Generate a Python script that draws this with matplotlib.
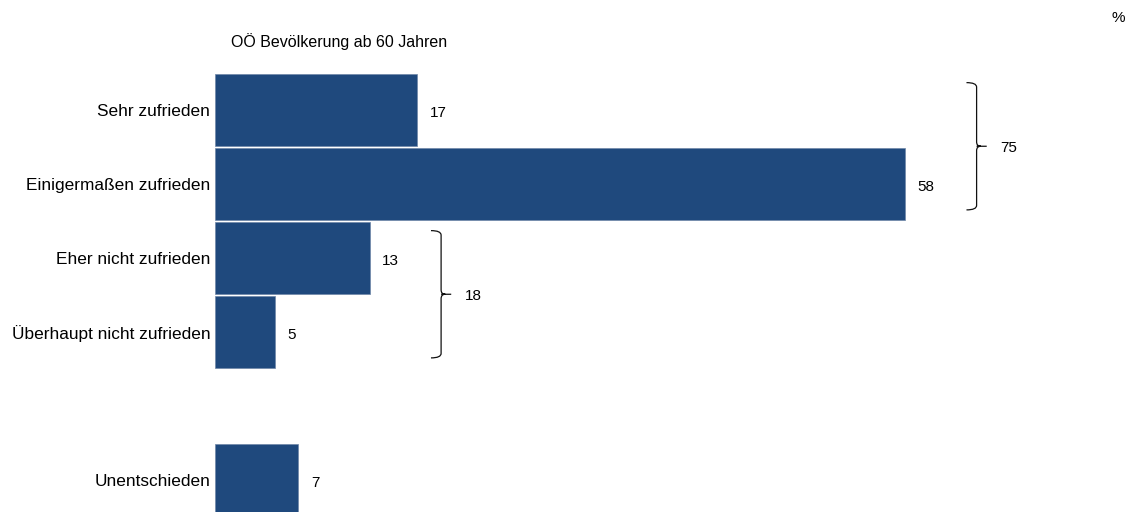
import matplotlib
matplotlib.use('Agg')
import matplotlib.pyplot as plt
from matplotlib.path import Path
from matplotlib.patches import PathPatch

plt.rcParams['font.family'] = ['Liberation Sans', 'DejaVu Sans']

# Daten
kategorien = ['Sehr zufrieden', 'Einigermaßen zufrieden', 'Eher nicht zufrieden',
              'Überhaupt nicht zufrieden', 'Unentschieden']
zeilen = [0, 1, 2, 3, 5]
werte = [17, 58, 13, 5, 7]
gruppen = [(0, 1), (2, 3)]          # Zeilen, die per Klammer zusammengefasst werden
summen = [75, 18]
untertitel = 'OÖ Bevölkerung ab 60 Jahren'

BALKEN = '#1F497D'
PX = 11.9          # Pixel pro Prozentpunkt
W, H = 1132, 512
LINKS = 215

fig = plt.figure(figsize=(W / 100, H / 100), dpi=100)
ax = fig.add_axes([LINKS / W, 0, (W - LINKS) / W, 1])
ax.set_xlim(0, (W - LINKS) / PX)
ax.set_ylim((H - 110) / 74, -110 / 74)
ax.axis('off')

ax.barh(zeilen, werte, height=0.97, color=BALKEN, edgecolor='#6f87a8', linewidth=0.5)

for y, v, k in zip(zeilen, werte, kategorien):
    ax.text(v + 1.05, y + 0.04, str(v), ha='left', va='center', fontsize=11)
    ax.text(-0.4, y + 0.02, k, ha='right', va='center', fontsize=12.4, clip_on=False)


def klammer(ax, x0, yt, yb, d=0.85, rx=0.35, ry=0.06):
    ym = (yt + yb) / 2
    verts = [(x0 - d, yt), (x0, yt), (x0, yt + ry),
             (x0, ym - ry), (x0, ym), (x0 + rx, ym),
             (x0 + rx, ym), (x0, ym), (x0, ym + ry),
             (x0, yb - ry), (x0, yb), (x0 - d, yb),
             (x0, ym), (x0 + d, ym)]
    codes = [Path.MOVETO, Path.CURVE3, Path.CURVE3,
             Path.LINETO, Path.CURVE3, Path.CURVE3,
             Path.MOVETO, Path.CURVE3, Path.CURVE3,
             Path.LINETO, Path.CURVE3, Path.CURVE3,
             Path.MOVETO, Path.LINETO]
    ax.add_patch(PathPatch(Path(verts, codes), fill=False, lw=0.9, ec='#111111',
                           clip_on=False))
    return ym


for (a, b), s in zip(gruppen, summen):
    x0 = max(werte[zeilen.index(a)], werte[zeilen.index(b)]) + 6
    ym = klammer(ax, x0, a - 0.5 + 0.13, b + 0.5 - 0.15)
    ax.text(x0 + 2.0, ym + 0.03, str(s), ha='left', va='center', fontsize=11)

fig.text(231 / W, 1 - 42 / H, untertitel, ha='left', va='center', fontsize=11.5)
fig.text(1118 / W, 1 - 18 / H, '%', ha='center', va='center', fontsize=11)

fig.savefig('out.png', dpi=100)
